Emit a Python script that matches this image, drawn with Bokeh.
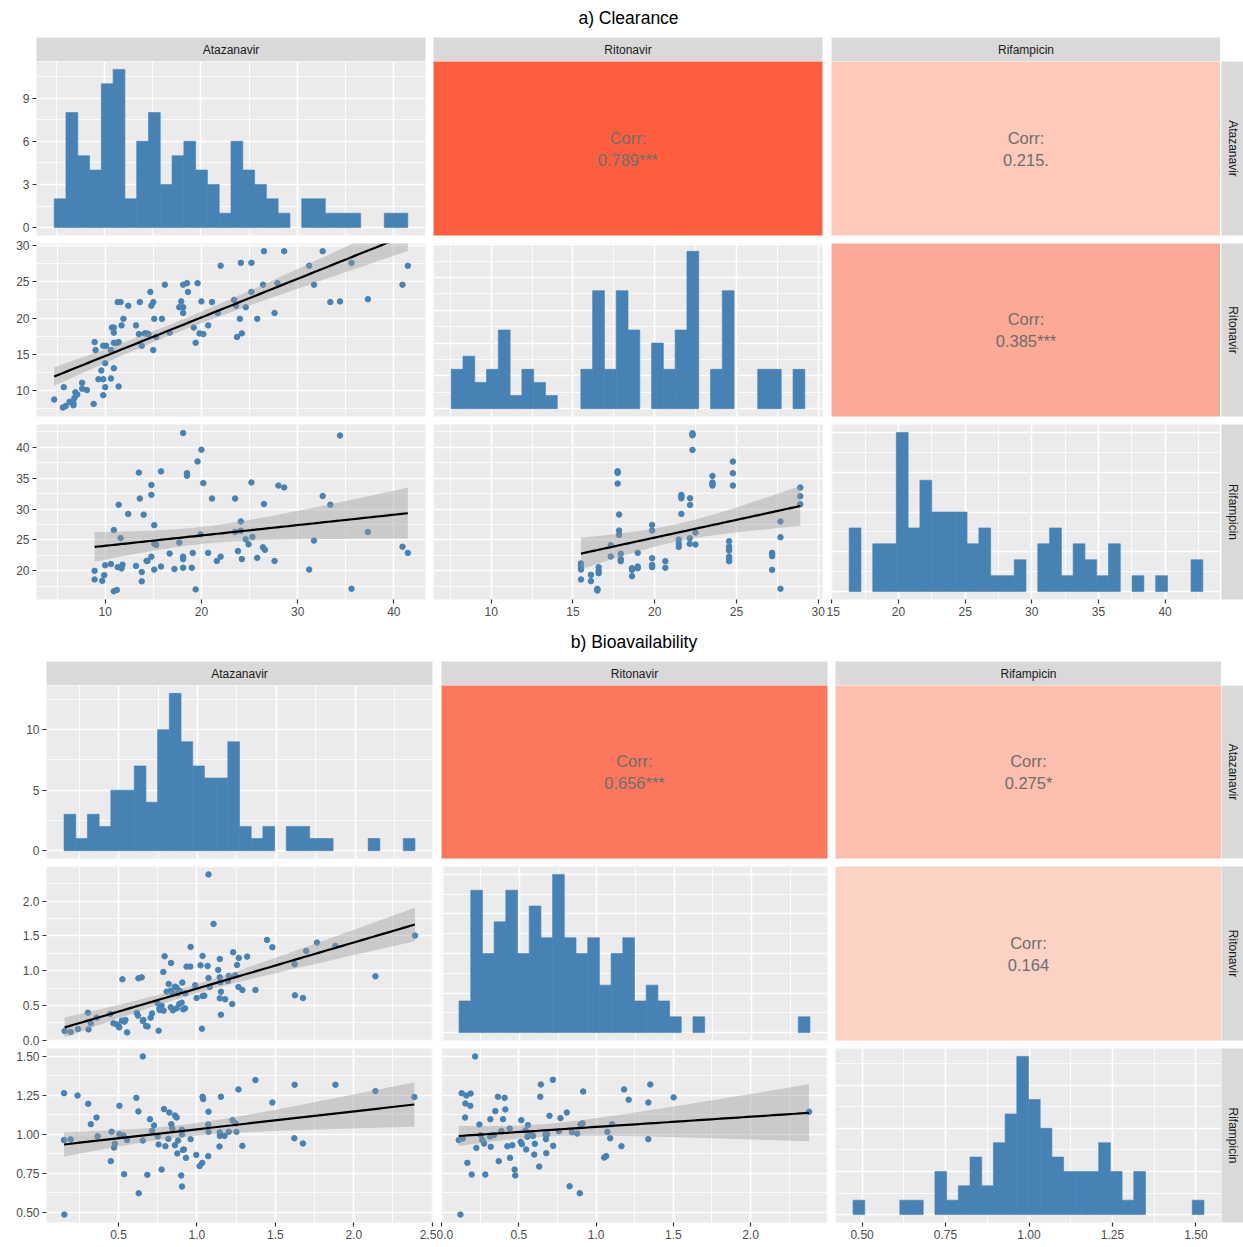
import math
import numpy as np
from bokeh.plotting import figure
from bokeh.models import Range1d, FixedTicker, PrintfTickFormatter, Label, Spacer
from bokeh.layouts import column, row
from bokeh.embed import file_html
from bokeh.resources import INLINE

FONT = "Liberation Sans"
PANEL_BG = "#EBEBEB"
STRIP_BG = "#D9D9D9"
BLUE = "#4682B4"

# ======================= a) Clearance =======================
clr_vars = ["Atazanavir", "Ritonavir", "Rifampicin"]
clr_min = [4.70, 7.55, 16.65]
clr_max = [41.45, 29.18, 42.40]
clr_bin_lo = [4.73, 7.56, 16.30]
clr_bin_hi = [41.52, 29.17, 42.83]
clr_hist_ata = [2, 8, 5, 4, 10, 11, 2, 6, 8, 3, 5, 6, 4, 3, 1, 6, 4, 3, 2, 1, 0, 2, 2, 1, 1, 1, 0, 0, 1, 1]
clr_hist_rit = [3, 4, 2, 3, 6, 1, 3, 2, 1, 0, 0, 3, 9, 3, 9, 6, 0, 5, 3, 6, 12, 0, 3, 9, 0, 0, 3, 3, 0, 3]
clr_hist_rif = [4, 0, 3, 3, 10, 4, 7, 5, 5, 5, 3, 4, 1, 1, 2, 0, 3, 4, 1, 3, 2, 1, 3, 0, 1, 0, 1, 0, 0, 2]
clr_ticks_ata = [10, 20, 30, 40]
clr_ticks_rit = [10, 15, 20, 25, 30]
clr_ticks_rif = [15, 20, 25, 30, 35, 40]
clr_count_ticks = [[0, 3, 6, 9], [0, 2.5, 5, 7.5, 10, 12.5], [0, 2.5, 5, 7.5, 10]]
clr_corr = [0.789, 0.215, 0.385]   # Ata-Rit, Ata-Rif, Rit-Rif
clr_sig = ["***", ".", "***"]

clr_ata_rit = [
    (26.5, 29.2), (28.6, 29.2), (32.6, 29.2),
    (22.0, 27.2), (24.1, 27.6), (25.2, 27.6), (31.2, 27.2), (35.6, 27.6), (41.45, 27.2),
    (16.2, 24.6), (18.1, 24.6), (18.5, 24.8), (19.6, 24.8), (26.4, 24.6), (27.9, 24.8), (31.7, 24.6), (40.9, 24.6),
    (14.7, 23.6), (18.6, 23.6), (25.2, 23.6),
    (11.3, 22.2), (11.6, 22.2), (13.6, 22.2), (15.0, 22.2), (17.9, 22.3), (20.0, 22.3), (21.1, 22.2),
    (23.4, 22.5), (33.4, 22.2), (34.4, 22.3), (37.3, 22.6),
    (12.4, 21.7), (14.8, 21.7), (17.7, 21.5), (18.1, 21.5), (24.6, 21.5), (23.6, 21.7),
    (18.1, 20.7), (21.7, 20.7), (27.6, 20.7), (11.9, 19.9), (15.1, 19.9), (15.9, 19.9), (24.0, 19.9), (25.8, 19.9),
    (10.7, 18.7), (10.9, 18.7), (11.7, 19.0), (13.2, 19.0), (19.2, 18.7), (20.7, 19.0),
    (10.9, 18.0), (13.5, 17.8), (14.1, 17.9), (14.3, 17.9), (14.5, 17.8), (15.3, 17.4), (16.7, 18.0),
    (19.8, 17.9), (20.2, 17.8), (23.7, 17.4), (24.2, 17.9),
    (8.9, 16.7), (9.8, 16.2), (10.1, 16.2), (10.9, 16.6), (11.2, 16.6), (11.4, 16.7), (13.8, 16.2), (19.4, 16.6),
    (9.0, 15.6), (10.6, 15.6), (15.0, 15.6),
    (10.0, 13.8), (10.9, 13.1), (9.6, 12.8),
    (9.3, 11.6), (9.8, 11.6), (10.6, 11.7), (11.4, 10.6),
    (5.7, 10.5), (7.6, 11.1), (10.0, 10.5), (7.6, 10.3), (8.1, 10.1),
    (4.7, 8.8), (6.9, 9.8), (7.1, 9.5), (6.8, 9.0), (6.3, 8.5), (6.6, 8.4), (8.8, 8.2), (9.8, 9.4),
    (5.6, 7.7), (5.9, 7.9), (6.7, 8.0), (6.7, 8.3),
]
clr_ata_rif = [
    (18.1, 42.3), (34.4, 41.9), (20.0, 39.6), (19.6, 37.7),
    (13.5, 35.9), (15.8, 36.1), (18.5, 35.8), (18.5, 35.4),
    (20.2, 34.2), (25.2, 34.3), (28.0, 33.8), (28.6, 33.5), (14.8, 33.9),
    (14.8, 32.3), (13.6, 31.7), (21.1, 31.7), (23.5, 31.7),
    (11.4, 30.7), (32.6, 32.1), (26.5, 30.8), (33.4, 30.7),
    (12.4, 29.2), (14.0, 29.1), (15.1, 27.4),
    (10.9, 26.6), (11.6, 25.3),
    (24.1, 28.0), (24.1, 26.5), (23.5, 26.3), (19.9, 25.9), (37.3, 26.3),
    (15.3, 24.2), (15.1, 24.4), (17.7, 24.6), (24.6, 25.1), (25.3, 25.5), (24.9, 24.3), (26.4, 23.8),
    (26.6, 23.4), (31.7, 24.9),
    (14.8, 22.3), (16.7, 22.8), (14.3, 21.6), (19.1, 22.9), (20.7, 22.9), (23.8, 23.2), (22.0, 22.3),
    (18.1, 22.3), (21.6, 21.6), (24.2, 21.9), (25.8, 22.1), (27.6, 21.6), (40.9, 23.9), (41.45, 22.9),
    (8.9, 20.0), (10.6, 21.1), (10.0, 20.9), (11.3, 20.6), (11.8, 21.0), (13.2, 20.8), (13.8, 19.8),
    (15.1, 20.2), (15.8, 20.7), (11.7, 20.4), (18.1, 20.5), (19.0, 20.5), (18.1, 21.9),
    (8.9, 18.6), (9.7, 18.4), (13.8, 18.3), (31.2, 20.2),
    (10.9, 16.7), (11.2, 16.9), (19.4, 17.0), (35.6, 17.1),
    (9.9, 19.3), (14.4, 21.6), (17.2, 20.3),
]
clr_rit_rif = [
    (22.31, 42.26), (22.31, 41.94), (22.31, 39.57),
    (24.78, 37.68), (24.78, 35.80), (24.78, 33.80),
    (17.73, 36.12), (17.73, 35.85), (17.73, 34.12),
    (23.53, 35.36), (23.53, 34.29), (23.53, 33.80),
    (28.9, 33.48), (28.9, 32.08), (28.9, 30.78),
    (21.63, 32.29), (21.63, 32.02), (21.63, 31.75), (22.16, 31.75), (22.16, 30.67), (21.63, 29.22),
    (17.82, 29.11),
    (27.69, 27.98), (27.69, 25.44),
    (19.84, 27.44), (19.84, 26.52),
    (17.82, 26.52), (17.82, 25.82),
    (22.49, 26.20), (22.14, 25.28), (22.14, 24.37), (22.49, 24.26), (21.47, 25.07), (21.47, 24.37), (21.47, 23.88),
    (17.31, 24.15), (17.31, 22.32),
    (17.92, 22.75), (17.92, 21.89), (17.92, 21.56),
    (18.96, 22.91),
    (24.55, 24.80), (24.55, 23.93), (24.55, 23.56), (24.55, 23.29), (24.55, 21.94), (24.55, 21.56),
    (27.18, 22.91), (27.18, 22.37), (27.18, 20.16),
    (19.84, 22.05), (19.84, 20.97), (19.84, 20.59),
    (20.65, 21.56), (20.65, 20.49),
    (18.96, 20.70), (18.96, 20.43),
    (18.61, 20.43), (18.61, 20.16), (18.61, 19.14),
    (15.49, 21.19), (15.49, 20.22), (15.49, 18.60),
    (16.10, 19.35), (16.10, 18.33),
    (16.57, 20.59), (16.57, 20.05), (16.57, 19.62),
    (16.49, 17.09), (16.49, 16.82),
    (27.69, 17.09),
    (16.49, 16.95), (15.49, 20.8), (19.84, 20.8), (24.55, 22.3), (22.31, 42.1), (17.73, 35.95),
    (23.53, 34.0), (27.18, 22.6),
]

# ======================= b) Bioavailability =======================
bio_vars = ["Atazanavir", "Ritonavir", "Rifampicin"]
bio_min = [0.153, 0.112, 0.485]
bio_max = [2.390, 2.385, 1.500]
bio_bin_lo = [0.152, 0.110, 0.473]
bio_bin_hi = [2.380, 2.379, 1.524]
bio_hist_ata = [3, 1, 3, 2, 5, 5, 7, 4, 10, 13, 9, 7, 6, 6, 9, 2, 1, 2, 0, 2, 2, 1, 1, 0, 0, 0, 1, 0, 0, 1]
bio_hist_rit = [2, 9, 5, 7, 9, 5, 8, 6, 10, 6, 5, 6, 3, 5, 6, 2, 3, 2, 1, 0, 1, 0, 0, 0, 0, 0, 0, 0, 0, 1]
bio_hist_rif = [1, 0, 0, 0, 1, 1, 0, 3, 1, 2, 4, 2, 5, 7, 11, 8, 6, 4, 3, 3, 3, 5, 3, 1, 3, 0, 0, 0, 0, 1]
bio_ticks_ata = [0.0, 0.5, 1.0, 1.5, 2.0, 2.5]
bio_ticks_rit = [0.0, 0.5, 1.0, 1.5, 2.0, 2.5]
bio_ticks_rif = [0.50, 0.75, 1.00, 1.25, 1.50]
bio_count_ticks = [[0, 5, 10], [0, 2.5, 5, 7.5, 10], [0, 3, 6, 9]]
bio_corr = [0.656, 0.275, 0.164]
bio_sig = ["***", "*", ""]

bio_ata_rit = [
    (1.074, 2.385),
    (1.106, 1.674),
    (1.447, 1.444), (2.390, 1.506), (1.765, 1.405), (1.481, 1.338), (1.883, 1.357), (1.697, 1.285),
    (0.960, 1.343),
    (1.231, 1.266), (1.320, 1.204), (1.036, 1.213), (1.267, 1.185), (0.794, 1.209), (1.146, 1.170), (1.623, 1.094),
    (0.835, 1.113), (0.934, 1.060), (0.958, 1.060), (1.023, 1.079), (1.068, 1.070), (1.136, 1.012), (1.256, 1.084),
    (2.138, 0.921),
    (0.786, 0.983), (0.525, 0.878), (0.627, 0.892), (0.648, 0.906), (1.074, 0.897), (1.146, 0.906), (1.203, 0.926),
    (1.244, 0.935),
    (0.820, 0.811), (0.860, 0.772), (0.907, 0.830), (0.989, 0.791), (1.081, 0.767), (1.150, 0.835), (1.197, 0.854),
    (1.265, 0.767), (1.290, 0.724), (1.373, 0.724),
    (0.807, 0.700), (0.833, 0.715), (0.871, 0.758), (0.847, 0.676), (0.881, 0.676), (0.892, 0.710), (0.926, 0.676),
    (1.036, 0.638), (1.047, 0.643), (0.998, 0.609), (1.153, 0.700), (1.146, 0.604), (1.180, 0.590), (1.625, 0.647),
    (1.676, 0.609),
    (0.750, 0.532), (0.775, 0.499), (0.761, 0.460), (0.788, 0.427), (0.833, 0.475), (0.847, 0.432), (0.871, 0.460),
    (0.888, 0.523), (0.903, 0.542), (0.913, 0.446), (0.924, 0.460), (1.225, 0.523), (1.153, 0.369),
    (0.305, 0.398), (0.617, 0.393), (0.625, 0.355), (0.659, 0.293), (0.714, 0.388), (0.705, 0.326), (0.763, 0.436),
    (0.309, 0.158), (0.362, 0.326), (0.324, 0.245), (0.447, 0.379), (0.468, 0.245), (0.489, 0.230), (0.504, 0.197),
    (0.521, 0.283), (0.538, 0.269), (0.544, 0.293), (0.655, 0.278), (0.676, 0.206), (0.686, 0.201),
    (0.157, 0.134), (0.195, 0.120), (0.242, 0.163), (0.504, 0.187), (0.555, 0.115), (0.756, 0.139), (1.032, 0.168),
]
bio_ata_rif = [
    (0.655, 1.500),
    (1.373, 1.348), (1.623, 1.318), (1.883, 1.318), (2.138, 1.277), (1.265, 1.288), (0.153, 1.264), (0.239, 1.249),
    (0.614, 1.234), (1.040, 1.226), (1.036, 1.241), (1.153, 1.241), (1.481, 1.204), (2.386, 1.239), (0.307, 1.196),
    (0.506, 1.183),
    (0.360, 1.108), (0.790, 1.162), (0.824, 1.140), (0.627, 1.147), (1.074, 1.145), (0.860, 1.121), (0.871, 1.108),
    (0.701, 1.097), (1.227, 1.091), (1.248, 1.070),
    (0.324, 1.065), (0.837, 1.065), (0.727, 1.057), (0.843, 1.037), (1.072, 1.063), (0.456, 1.016), (0.367, 0.988),
    (0.153, 0.963), (0.195, 0.967),
    (0.506, 1.001), (0.532, 0.993), (0.555, 0.963), (0.655, 0.960), (0.714, 1.022), (0.750, 0.986), (0.818, 0.971),
    (0.903, 1.029), (0.905, 0.999), (0.960, 0.969), (1.074, 1.016), (1.146, 1.012), (1.176, 0.990), (1.203, 1.016),
    (1.252, 1.016), (1.146, 0.990),
    (0.477, 0.939), (0.472, 0.915), (0.756, 0.935), (0.799, 0.924), (0.860, 0.930), (0.917, 0.903), (0.911, 0.900),
    (1.144, 0.922), (1.290, 0.926), (1.621, 0.975), (1.676, 0.941),
    (0.875, 0.877), (0.930, 0.849), (0.996, 0.868), (1.072, 0.860), (1.034, 0.817), (1.017, 0.796),
    (0.451, 0.828), (0.684, 0.740), (0.536, 0.744), (0.775, 0.774), (0.900, 0.736), (0.629, 0.622), (0.905, 0.665),
    (0.155, 0.485), (0.880, 0.960),
]
bio_rit_rif = [
    (0.216, 1.500),
    (0.720, 1.350), (1.351, 1.320), (0.642, 1.320), (0.916, 1.275), (1.181, 1.288), (1.502, 1.237), (1.338, 1.204),
    (1.211, 1.222),
    (0.129, 1.264), (0.159, 1.249), (0.153, 1.198), (0.185, 1.183), (0.364, 1.241), (0.407, 1.234), (0.638, 1.241),
    (0.347, 1.149), (0.412, 1.160), (0.810, 1.140), (0.698, 1.119), (0.769, 1.104), (0.315, 1.097), (0.397, 1.097),
    (0.151, 1.108), (0.244, 1.063), (0.515, 1.091), (0.558, 1.059),
    (0.440, 1.037), (0.386, 1.022), (0.313, 0.986), (0.338, 0.995), (0.591, 0.990), (0.672, 0.999), (0.759, 1.020),
    (0.843, 1.014), (0.899, 1.063), (0.912, 1.070), (1.103, 1.065), (1.073, 1.016), (0.675, 0.969), (0.683, 1.001),
    (1.091, 0.975),
    (0.110, 0.963), (0.136, 0.973), (0.252, 0.995), (0.263, 0.963), (0.274, 0.941), (0.543, 1.025), (0.554, 0.984),
    (0.224, 0.913), (0.425, 0.924), (0.457, 0.930), (0.519, 0.937), (0.547, 0.903), (0.603, 0.939), (0.677, 0.879),
    (0.722, 0.926), (1.164, 0.924), (1.338, 0.969),
    (0.166, 0.817), (0.369, 0.828), (0.442, 0.849), (0.599, 0.870), (0.631, 0.793), (1.052, 0.851), (1.065, 0.860),
    (0.194, 0.742), (0.282, 0.742), (0.472, 0.774), (0.476, 0.736), (0.828, 0.667), (0.894, 0.622),
    (0.121, 0.485),
    (2.379, 1.145),
    (0.575, 0.999), (0.511, 0.952), (0.317, 0.920), (0.877, 1.005), (0.187, 1.262),
]


# ======================= helpers =======================
def corr_color(r):
    lo = np.array([252, 241, 232])
    hi = np.array([252, 55, 17])
    c = lo + (hi - lo) * r
    return "#%02x%02x%02x" % tuple(int(round(v)) for v in c)


def expand(a, b, f=0.05):
    d = (b - a) * f
    return (a - d, b + d)


def minors(t):
    step = t[1] - t[0]
    return [t[0] - step / 2] + [v + step / 2 for v in t]


def lm_band(pts, n_out=80):
    x = np.array([p[0] for p in pts], dtype=float)
    y = np.array([p[1] for p in pts], dtype=float)
    n = len(x)
    b1, b0 = np.polyfit(x, y, 1)
    xs = np.linspace(x.min(), x.max(), n_out)
    yh = b0 + b1 * xs
    res = y - (b0 + b1 * x)
    s = math.sqrt(np.sum(res ** 2) / (n - 2))
    sxx = np.sum((x - x.mean()) ** 2)
    se = s * np.sqrt(1.0 / n + (xs - x.mean()) ** 2 / sxx)
    t = 1.96 + 2.4 / (n - 2)
    return xs, yh, yh - t * se, yh + t * se


def make_fig(w, h, bl, br, bt, bb, xr, yr, bg=PANEL_BG, xaxis=False, yaxis=False):
    p = figure(width=w, height=h, x_range=Range1d(*xr), y_range=Range1d(*yr),
               x_axis_location="below" if xaxis else None,
               y_axis_location="left" if yaxis else None,
               output_backend="svg", toolbar_location=None, tools="",
               min_border_left=bl, min_border_right=br, min_border_top=bt, min_border_bottom=bb,
               background_fill_color=bg, border_fill_color="white", outline_line_color=None)
    return p


def style_axis(ax, ticks, fmt):
    ax.ticker = FixedTicker(ticks=ticks)
    ax.formatter = PrintfTickFormatter(format=fmt)
    ax.axis_line_color = None
    ax.major_tick_line_color = "#333333"
    ax.major_tick_line_width = 1.2
    ax.major_tick_out = 4
    ax.major_tick_in = 0
    ax.minor_tick_line_color = None
    ax.major_label_text_font = FONT
    ax.major_label_text_font_size = "12px"
    ax.major_label_text_color = "#4D4D4D"
    ax.major_label_standoff = 3


def style_grid(p, xt, yt):
    p.xgrid.ticker = FixedTicker(ticks=xt, minor_ticks=minors(xt))
    p.ygrid.ticker = FixedTicker(ticks=yt, minor_ticks=minors(yt))
    for g in (p.xgrid, p.ygrid):
        g.grid_line_color = "white"
        g.grid_line_width = 1.6
        g.minor_grid_line_color = "white"
        g.minor_grid_line_width = 0.8


def build(title, title_h, title_cx, title_cy, widths, bls, brs, strip_w, strip_bl,
          heights, bts, bbs, names, vmin, vmax, bin_lo, bin_hi, hists, cticks,
          ticks, fmts, pairs, corr, sig):
    total_w = sum(widths) + strip_w
    out = []
    tp = make_fig(total_w, title_h, 0, 0, 0, 0, (0, total_w), (0, title_h), bg="white")
    tp.grid.visible = False
    tp.add_layout(Label(x=title_cx, y=title_h - title_cy, text=title, text_align="center",
                        text_baseline="middle", text_font=FONT, text_font_size="17.5px",
                        text_color="black"))
    out.append(tp)

    strips = []
    for j in range(3):
        sp = make_fig(widths[j], 24, bls[j], brs[j], 0, 0, (0, 1), (0, 1), bg=STRIP_BG)
        sp.grid.visible = False
        sp.add_layout(Label(x=0.5, y=0.5, text=names[j], text_align="center", text_baseline="middle",
                            text_font=FONT, text_font_size="12px", text_color="#1A1A1A"))
        strips.append(sp)
    strips.append(Spacer(width=strip_w, height=24))
    out.append(row(*strips))

    cidx = {(0, 1): 0, (0, 2): 1, (1, 2): 2}
    for i in range(3):
        figs = []
        for j in range(3):
            w, h = widths[j], heights[i]
            if i == j:
                counts = np.array(hists[j], dtype=float)
                edges = np.linspace(bin_lo[j], bin_hi[j], len(counts) + 1)
                keep = counts > 0
                p = make_fig(w, h, bls[j], brs[j], bts[i], bbs[i],
                             expand(bin_lo[j], bin_hi[j]), expand(0, counts.max()),
                             xaxis=(i == 2), yaxis=(j == 0))
                style_grid(p, ticks[j], cticks[j])
                p.quad(left=edges[:-1][keep], right=edges[1:][keep], bottom=0, top=counts[keep],
                       fill_color=BLUE, line_color=BLUE, line_width=0.6)
                if j == 0:
                    style_axis(p.yaxis[0], cticks[j], "%d")
                if i == 2:
                    style_axis(p.xaxis[0], ticks[j], fmts[j])
            elif i < j:
                r = corr[cidx[(i, j)]]
                p = make_fig(w, h, bls[j], brs[j], bts[i], bbs[i], (0, 1), (0, 1),
                             bg=corr_color(r))
                p.grid.visible = False
                p.add_layout(Label(x=0.5, y=0.5, y_offset=11, text="Corr:", text_align="center",
                                   text_baseline="middle", text_font=FONT, text_font_size="16.5px",
                                   text_color="#6E6E6E"))
                p.add_layout(Label(x=0.5, y=0.5, y_offset=-11,
                                   text="%.3f%s" % (r, sig[cidx[(i, j)]]), text_align="center",
                                   text_baseline="middle", text_font=FONT, text_font_size="16.5px",
                                   text_color="#6E6E6E"))
            else:
                pts = pairs[(i, j)]
                p = make_fig(w, h, bls[j], brs[j], bts[i], bbs[i],
                             expand(vmin[j], vmax[j]), expand(vmin[i], vmax[i]),
                             xaxis=(i == 2), yaxis=(j == 0))
                style_grid(p, ticks[j], ticks[i])
                p.scatter([q[0] for q in pts], [q[1] for q in pts], size=5.5,
                          fill_color=BLUE, line_color=BLUE)
                xs, yh, lo, hi = lm_band(pts)
                p.varea(x=xs, y1=lo, y2=hi, fill_color="#999999", fill_alpha=0.4)
                p.line(xs, yh, line_color="black", line_width=2.2)
                if j == 0:
                    style_axis(p.yaxis[0], ticks[i], fmts[i])
                if i == 2:
                    style_axis(p.xaxis[0], ticks[j], fmts[j])
            figs.append(p)
        rs = make_fig(strip_w, heights[i], strip_bl, 0, bts[i], bbs[i], (0, 1), (0, 1), bg=STRIP_BG)
        rs.grid.visible = False
        rs.add_layout(Label(x=0.5, y=0.5, text=names[i], angle=-math.pi / 2, text_align="center",
                            text_baseline="middle", text_font=FONT, text_font_size="12px",
                            text_color="#1A1A1A"))
        figs.append(rs)
        out.append(row(*figs))
    return out


part_a = build(
    "a) Clearance", 37, 628, 17,
    [429, 397, 394], [36, 4, 5], [4, 4, 0], 23, 1,
    [176, 183, 201], [0, 6, 4], [2, 4, 22],
    clr_vars, clr_min, clr_max, clr_bin_lo, clr_bin_hi,
    [clr_hist_ata, clr_hist_rit, clr_hist_rif], clr_count_ticks,
    [clr_ticks_ata, clr_ticks_rit, clr_ticks_rif], ["%d", "%d", "%d"],
    {(1, 0): clr_ata_rit, (2, 0): clr_ata_rif, (2, 1): clr_rit_rif},
    clr_corr, clr_sig)

part_b = build(
    "b) Bioavailability", 40, 633.5, 20,
    [436, 395, 390], [46, 5, 4], [4, 4, 0], 22, 0,
    [177, 186, 195], [0, 4, 0], [4, 8, 21],
    bio_vars, bio_min, bio_max, bio_bin_lo, bio_bin_hi,
    [bio_hist_ata, bio_hist_rit, bio_hist_rif], bio_count_ticks,
    [bio_ticks_ata, bio_ticks_rit, bio_ticks_rif], ["%.1f", "%.1f", "%.2f"],
    {(1, 0): bio_ata_rit, (2, 0): bio_ata_rif, (2, 1): bio_rit_rif},
    bio_corr, bio_sig)

layout = column(*(part_a + part_b))
open("out.html", "w").write(file_html(layout, INLINE))
